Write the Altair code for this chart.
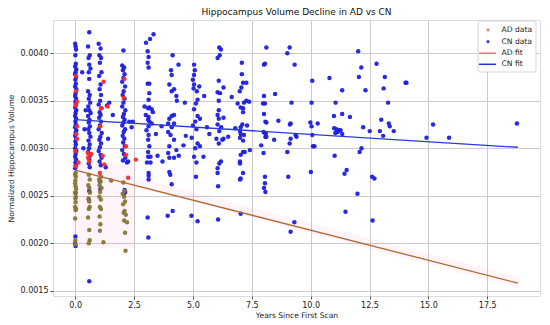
import altair as alt
import pandas as pd
import numpy as np

# ---------------- data ----------------
# CN (cognitively normal) observations: (years since first scan, normalized volume)
cn_points = [
    # first visit column
    (0.00, 0.00410), (0.02, 0.00407), (0.04, 0.00404), (0.01, 0.00398), (0.03, 0.00389),
    (0.00, 0.00386), (0.05, 0.00383), (0.02, 0.00380), (0.00, 0.00378), (0.04, 0.00375),
    (0.01, 0.00372), (0.03, 0.00368), (0.00, 0.00365), (0.05, 0.00362), (0.02, 0.00358),
    (0.00, 0.00355), (0.04, 0.00352), (0.01, 0.00349), (0.03, 0.00346), (0.00, 0.00343),
    (0.05, 0.00340), (0.02, 0.00337), (0.00, 0.00334), (0.04, 0.00331), (0.01, 0.00328),
    (0.03, 0.00325), (0.00, 0.00322), (0.05, 0.00319), (0.02, 0.00316), (0.00, 0.00313),
    (0.04, 0.00310), (0.01, 0.00307), (0.03, 0.00304), (0.00, 0.00300), (0.05, 0.00297),
    (0.02, 0.00294), (0.00, 0.00291), (0.04, 0.00288), (0.01, 0.00285), (0.03, 0.00282),
    (0.00, 0.00279), (0.02, 0.00253), (0.01, 0.00207), (0.00, 0.00200), (0.02, 0.00197),
    (0.30, 0.00380), (0.45, 0.00340), (0.40, 0.00320), (0.35, 0.00300),
    # ~0.6 years
    (0.60, 0.00422), (0.55, 0.00407), (0.62, 0.00398), (0.57, 0.00395), (0.60, 0.00388),
    (0.65, 0.00384), (0.58, 0.00380), (0.60, 0.00373), (0.55, 0.00360), (0.62, 0.00356),
    (0.58, 0.00352), (0.64, 0.00348), (0.56, 0.00344), (0.60, 0.00340), (0.66, 0.00337),
    (0.55, 0.00334), (0.61, 0.00330), (0.58, 0.00327), (0.63, 0.00323), (0.56, 0.00320),
    (0.60, 0.00316), (0.65, 0.00312), (0.57, 0.00308), (0.62, 0.00304), (0.59, 0.00300),
    (0.55, 0.00296), (0.63, 0.00292), (0.60, 0.00288), (0.58, 0.00284), (0.62, 0.00280),
    (0.60, 0.00255), (0.58, 0.00246), (0.60, 0.00160),
    # ~1.1 years
    (1.00, 0.00410), (1.08, 0.00405), (1.03, 0.00398), (1.10, 0.00395), (1.05, 0.00390),
    (1.12, 0.00380), (1.02, 0.00376), (1.08, 0.00367), (1.04, 0.00362), (1.10, 0.00356),
    (1.06, 0.00350), (1.00, 0.00346), (1.12, 0.00342), (1.04, 0.00338), (1.08, 0.00335),
    (1.02, 0.00332), (1.10, 0.00328), (1.05, 0.00324), (1.00, 0.00320), (1.13, 0.00316),
    (1.07, 0.00312), (1.03, 0.00309), (1.10, 0.00305), (1.05, 0.00301), (1.00, 0.00297),
    (1.08, 0.00293), (1.12, 0.00290), (1.04, 0.00286), (1.09, 0.00282), (1.05, 0.00265),
    (1.07, 0.00257), (1.35, 0.00345), (1.45, 0.00348), (1.60, 0.00335), (1.40, 0.00310),
    (1.30, 0.00280),
    # ~2.1 years
    (2.05, 0.00403), (2.00, 0.00387), (2.08, 0.00385), (2.03, 0.00382), (2.10, 0.00378),
    (2.05, 0.00374), (2.00, 0.00370), (2.12, 0.00365), (2.06, 0.00360), (2.02, 0.00356),
    (2.10, 0.00352), (2.05, 0.00348), (2.00, 0.00344), (2.13, 0.00340), (2.07, 0.00336),
    (2.03, 0.00333), (2.10, 0.00330), (2.05, 0.00327), (2.00, 0.00324), (2.12, 0.00320),
    (2.06, 0.00317), (2.02, 0.00313), (2.09, 0.00310), (2.04, 0.00306), (2.11, 0.00302),
    (2.00, 0.00298), (2.07, 0.00294), (2.13, 0.00290), (2.03, 0.00287), (2.20, 0.00285),
    (2.10, 0.00256), (2.13, 0.00254), (2.08, 0.00252), (2.30, 0.00328), (2.40, 0.00322),
    (2.45, 0.00328), (2.25, 0.00286),
    # ~3 years
    (3.33, 0.00420), (3.18, 0.00415), (3.01, 0.00411), (3.08, 0.00402), (3.12, 0.00396),
    (3.08, 0.00390), (3.12, 0.00385), (3.08, 0.00368), (3.15, 0.00368), (3.15, 0.00358),
    (3.12, 0.00351), (2.95, 0.00344), (3.15, 0.00343), (3.25, 0.00341), (3.10, 0.00342),
    (3.30, 0.00338), (3.00, 0.00335), (3.12, 0.00333), (3.10, 0.00330), (3.15, 0.00328),
    (3.25, 0.00326), (3.12, 0.00323), (3.03, 0.00319), (3.12, 0.00314), (3.10, 0.00309),
    (3.15, 0.00302), (3.10, 0.00296), (3.10, 0.00291), (3.20, 0.00291), (3.05, 0.00285),
    (3.20, 0.00285), (3.12, 0.00274), (3.12, 0.00271), (3.12, 0.00267), (3.08, 0.00227),
    (3.11, 0.00206), (3.43, 0.00315), (3.67, 0.00323), (3.71, 0.00286), (3.50, 0.00292),
    # ~4 years
    (4.14, 0.00398), (4.39, 0.00388), (4.07, 0.00382), (4.10, 0.00377), (4.00, 0.00367),
    (4.10, 0.00360), (4.20, 0.00362), (4.30, 0.00355), (4.32, 0.00350), (4.66, 0.00348),
    (4.10, 0.00334), (4.20, 0.00335), (4.00, 0.00331), (3.95, 0.00326), (4.20, 0.00326),
    (4.10, 0.00322), (3.95, 0.00317), (4.05, 0.00314), (4.70, 0.00313), (4.20, 0.00309),
    (4.00, 0.00302), (4.60, 0.00303), (4.30, 0.00298), (3.95, 0.00295), (4.00, 0.00290),
    (4.20, 0.00290), (4.00, 0.00275), (4.04, 0.00272), (4.10, 0.00262), (3.93, 0.00229),
    (4.14, 0.00234), (4.40, 0.00292),
    # ~5 years
    (5.05, 0.00388), (5.08, 0.00382), (5.05, 0.00377), (5.00, 0.00372), (5.05, 0.00367),
    (5.27, 0.00365), (5.17, 0.00360), (5.03, 0.00363), (5.48, 0.00355), (5.20, 0.00351),
    (5.13, 0.00347), (5.05, 0.00341), (5.20, 0.00334), (5.30, 0.00331), (5.10, 0.00328),
    (5.00, 0.00324), (5.15, 0.00320), (5.70, 0.00315), (4.95, 0.00311), (5.20, 0.00305),
    (5.10, 0.00300), (5.30, 0.00302), (5.60, 0.00322), (5.45, 0.00291), (5.13, 0.00270),
    (4.94, 0.00229), (5.20, 0.00223), (5.05, 0.00291), (5.15, 0.00285),
    # ~6 years
    (6.12, 0.00406), (6.19, 0.00404), (6.14, 0.00398), (6.05, 0.00395), (6.10, 0.00371),
    (6.30, 0.00364), (6.05, 0.00359), (6.15, 0.00358), (6.10, 0.00350), (6.65, 0.00354),
    (6.10, 0.00340), (6.05, 0.00335), (6.10, 0.00331), (6.30, 0.00332), (6.05, 0.00325),
    (6.20, 0.00322), (6.12, 0.00318), (6.50, 0.00312), (6.00, 0.00310), (6.25, 0.00309),
    (6.10, 0.00305), (6.30, 0.00310), (6.19, 0.00286), (6.12, 0.00284), (6.05, 0.00279),
    (6.05, 0.00274), (6.07, 0.00260), (6.07, 0.00225), (6.80, 0.00321), (6.90, 0.00347),
    # ~7 years
    (7.08, 0.00390), (7.08, 0.00378), (7.13, 0.00369), (7.27, 0.00369), (7.06, 0.00364),
    (6.99, 0.00360), (7.27, 0.00350), (7.39, 0.00349), (7.17, 0.00348), (7.13, 0.00342),
    (7.03, 0.00343), (7.13, 0.00338), (7.10, 0.00325), (7.03, 0.00322), (7.30, 0.00324),
    (7.00, 0.00318), (7.03, 0.00315), (7.17, 0.00314), (7.00, 0.00311), (7.13, 0.00308),
    (7.42, 0.00298), (7.13, 0.00296), (7.03, 0.00293), (7.20, 0.00296), (7.00, 0.00286),
    (7.00, 0.00284), (7.13, 0.00274), (7.03, 0.00268), (7.03, 0.00231), (7.00, 0.00267),
    # ~8 years
    (8.12, 0.00406), (8.06, 0.00389), (8.02, 0.00388), (8.02, 0.00355), (7.98, 0.00347),
    (8.06, 0.00347), (8.02, 0.00336), (8.08, 0.00328), (8.12, 0.00327), (8.06, 0.00316),
    (8.10, 0.00316), (8.08, 0.00312), (8.12, 0.00312), (8.00, 0.00317), (8.06, 0.00270),
    (8.06, 0.00263), (8.02, 0.00258), (8.08, 0.00254), (8.49, 0.00357), (8.63, 0.00329),
    (8.45, 0.00309), (7.90, 0.00303), (8.00, 0.00295),
    # ~9 years
    (9.01, 0.00400), (9.11, 0.00406), (9.32, 0.00388), (9.19, 0.00348), (9.15, 0.00326),
    (9.12, 0.00325), (9.36, 0.00314), (9.40, 0.00312), (9.15, 0.00310), (9.11, 0.00305),
    (9.01, 0.00296), (9.05, 0.00270), (9.31, 0.00222), (9.15, 0.00212),
    # ~10-11 years
    (10.07, 0.00371), (10.04, 0.00348), (9.99, 0.00327), (10.04, 0.00323), (10.30, 0.00326),
    (10.07, 0.00314), (10.10, 0.00302), (10.16, 0.00302), (10.01, 0.00275), (10.80, 0.00374),
    (11.06, 0.00348), (10.99, 0.00334), (11.00, 0.00321), (11.10, 0.00320), (11.20, 0.00319),
    (11.05, 0.00316), (11.15, 0.00317), (11.02, 0.00292),
    # late visits
    (12.02, 0.00402), (12.80, 0.00389), (12.15, 0.00385), (12.05, 0.00375), (13.15, 0.00375),
    (14.03, 0.00369), (14.07, 0.00369), (13.10, 0.00363), (12.33, 0.00361), (11.34, 0.00361),
    (13.29, 0.00348), (11.34, 0.00336), (11.67, 0.00333), (13.00, 0.00330), (13.32, 0.00326),
    (13.36, 0.00323), (15.20, 0.00325), (18.76, 0.00326), (12.23, 0.00322), (12.51, 0.00318),
    (12.94, 0.00318), (13.53, 0.00318), (11.27, 0.00319), (11.34, 0.00315), (13.08, 0.00313),
    (14.92, 0.00311), (15.88, 0.00311), (12.16, 0.00300), (12.08, 0.00296), (11.53, 0.00277),
    (11.44, 0.00273), (12.61, 0.00270), (12.71, 0.00268), (11.99, 0.00252), (11.48, 0.00233),
    (12.63, 0.00224),
]

# AD (Alzheimer's disease) observations
ad_points = [
    (0.04, 0.00376), (0.04, 0.00360), (0.08, 0.00349), (0.03, 0.00345), (0.08, 0.00323),
    (0.05, 0.00315), (0.08, 0.00310), (0.00, 0.00297), (0.14, 0.00285), (0.03, 0.00281),
    (0.54, 0.00295), (0.60, 0.00293), (0.55, 0.00290), (0.68, 0.00294), (0.60, 0.00286),
    (1.21, 0.00370), (1.38, 0.00344), (1.10, 0.00342), (1.07, 0.00323), (1.17, 0.00292),
    (1.24, 0.00283), (2.09, 0.00373), (2.06, 0.00353), (2.16, 0.00302), (2.16, 0.00293),
    (2.58, 0.00288),
    (0.02, 0.00274), (0.00, 0.00272), (0.03, 0.00270), (0.01, 0.00266), (0.00, 0.00263),
    (0.02, 0.00260), (0.04, 0.00257), (0.00, 0.00253), (0.03, 0.00249), (0.01, 0.00247),
    (0.02, 0.00243), (0.00, 0.00238), (0.04, 0.00236), (0.02, 0.00235), (0.00, 0.00226),
    (0.01, 0.00203), (0.00, 0.00199),
    (0.58, 0.00272), (0.62, 0.00267), (0.56, 0.00261), (0.60, 0.00258), (0.63, 0.00253),
    (0.57, 0.00247), (0.60, 0.00244), (0.62, 0.00238), (0.58, 0.00236), (0.55, 0.00227),
    (0.60, 0.00214), (0.62, 0.00203), (0.58, 0.00200),
    (1.05, 0.00274), (1.10, 0.00270), (1.02, 0.00267), (1.08, 0.00265), (1.04, 0.00261),
    (1.12, 0.00258), (1.06, 0.00254), (1.03, 0.00249), (1.09, 0.00246), (1.05, 0.00238),
    (1.10, 0.00236), (1.04, 0.00228), (1.07, 0.00220), (1.05, 0.00213), (1.20, 0.00201),
    (1.53, 0.00266),
    (2.25, 0.00269), (2.05, 0.00264), (2.10, 0.00255), (2.02, 0.00252), (2.08, 0.00249),
    (2.12, 0.00244), (2.04, 0.00241), (2.10, 0.00234), (2.06, 0.00232), (2.15, 0.00230),
    (2.08, 0.00224), (2.20, 0.00222), (2.12, 0.00211), (2.14, 0.00192),
]

# fitted regression lines (end points)
fit_years = [0.0, 18.8]
ad_fit = [0.00277, 0.00158]
cn_fit = [0.00330, 0.00301]

# faint confidence region around the AD fit
band_years = [-0.15, 2.6, 2.6, 18.9]
band_low = [0.00195, 0.00195, 0.00259, 0.00152]
band_high = [0.00284, 0.00284, 0.00269, 0.00164]

x_ticks = [0.0, 2.5, 5.0, 7.5, 10.0, 12.5, 15.0, 17.5]
y_ticks = [0.0015, 0.0020, 0.0025, 0.0030, 0.0035, 0.0040]
legend_labels = ["AD data", "CN data", "AD fit", "CN fit"]
title_text = "Hippocampus Volume Decline in AD vs CN"

# ---------------- tables ----------------
cn_df = pd.DataFrame(cn_points, columns=["years", "volume"])
ad_df = pd.DataFrame(ad_points, columns=["years", "volume"])
ad_df["below"] = ad_df["volume"] < np.interp(ad_df["years"], fit_years, ad_fit)
fit_df = pd.DataFrame({"years": fit_years, "ad": ad_fit, "cn": cn_fit})
band_df = pd.DataFrame({"years": band_years, "low": band_low, "high": band_high})

W, H = 487, 276
FONT = "DejaVu Sans"

xs = alt.Scale(domain=[-0.94, 19.74], nice=False, zero=False)
ys = alt.Scale(domain=[0.001444, 0.00435], nice=False, zero=False)

x_axis = alt.Axis(values=x_ticks, format=".1f", title="Years Since First Scan",
                  grid=True, gridColor="#cccccc", gridWidth=1, domain=False,
                  tickColor="#555555", tickSize=3, labelPadding=2, labelFontSize=8,
                  labelColor="#222222", titleFontSize=7.6, titleFontWeight="normal",
                  titleColor="#222222", titlePadding=2, labelFont=FONT, titleFont=FONT,
                  labelFlush=False)
y_axis = alt.Axis(values=y_ticks, format=".4f", title="Normalized Hippocampus Volume",
                  grid=True, gridColor="#cccccc", gridWidth=1, domain=False,
                  tickColor="#555555", tickSize=3, labelPadding=2, labelFontSize=8,
                  labelColor="#222222", titleFontSize=7.6, titleFontWeight="normal",
                  titleColor="#222222", titlePadding=5, labelFont=FONT, titleFont=FONT,
                  labelFlush=False)

band = alt.Chart(band_df).mark_area(color="#ff69b4", opacity=0.07).encode(
    x=alt.X("years:Q", scale=xs, axis=x_axis),
    y=alt.Y("low:Q", scale=ys, axis=y_axis),
    y2="high:Q",
)

cn_pts = alt.Chart(cn_df).mark_circle(size=20, color="#1e1ee0", opacity=0.95).encode(
    x=alt.X("years:Q", scale=xs), y=alt.Y("volume:Q", scale=ys))

ad_pts = alt.Chart(ad_df).mark_circle(size=20, opacity=0.95).encode(
    x=alt.X("years:Q", scale=xs), y=alt.Y("volume:Q", scale=ys),
    color=alt.condition("datum.below", alt.value("#8a7634"), alt.value("#ff2a2a")),
)

cn_line = alt.Chart(fit_df).mark_line(color="#2a3ad6", strokeWidth=1.3).encode(
    x=alt.X("years:Q", scale=xs), y=alt.Y("cn:Q", scale=ys))
ad_line = alt.Chart(fit_df).mark_line(color="#b06a32", strokeWidth=1.3).encode(
    x=alt.X("years:Q", scale=xs), y=alt.Y("ad:Q", scale=ys))

one = pd.DataFrame({"k": [0]})

# title as a text mark centred above the plot
title = alt.Chart(one).mark_text(
    text=title_text, align="center", baseline="alphabetic", fontSize=9, font=FONT,
    color="#111111").encode(x=alt.value(W / 2), y=alt.value(-5))

# ---------------- legend (upper right) ----------------
leg_box = alt.Chart(one).mark_rect(fill="white", stroke="#d0d0d0", strokeWidth=1,
                                   cornerRadius=2, opacity=0.9).encode(
    x=alt.value(425), x2=alt.value(483), y=alt.value(1), y2=alt.value(52))
leg_items = [leg_box]
rows_y = [10, 21.7, 33.3, 44.3]
leg_items.append(alt.Chart(one).mark_circle(size=10, color="#ff5a5a", opacity=0.8).encode(
    x=alt.value(435), y=alt.value(rows_y[0])))
leg_items.append(alt.Chart(one).mark_circle(size=10, color="#2828e0", opacity=0.9).encode(
    x=alt.value(435), y=alt.value(rows_y[1])))
leg_items.append(alt.Chart(one).mark_rule(color="#ff6a6a", strokeWidth=1.5).encode(
    x=alt.value(426), x2=alt.value(443), y=alt.value(rows_y[2])))
leg_items.append(alt.Chart(one).mark_rule(color="#2233cc", strokeWidth=1.5).encode(
    x=alt.value(426), x2=alt.value(443), y=alt.value(rows_y[3])))
for lbl, yy in zip(legend_labels, rows_y):
    leg_items.append(alt.Chart(one).mark_text(
        text=lbl, align="left", baseline="middle", fontSize=7.6, font=FONT,
        color="#222222").encode(x=alt.value(448.5), y=alt.value(yy)))

chart = alt.layer(band, cn_pts, ad_pts, cn_line, ad_line, title, *leg_items).properties(
    width=W, height=H,
    autosize=alt.AutoSizeParams(type="none"),
    padding={"left": 45, "top": 12, "right": 2, "bottom": 24},
).configure_view(stroke="#666666", strokeWidth=1).configure(background="white")

chart.save("out.html", embed_options={"renderer": "svg", "actions": False})
